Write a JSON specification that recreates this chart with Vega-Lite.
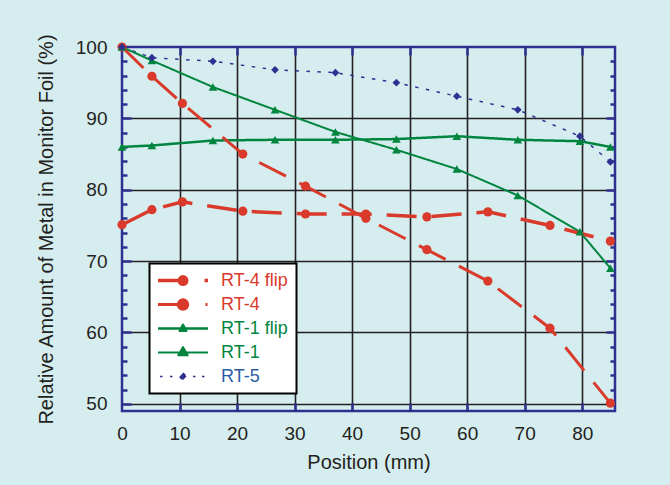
{
  "$schema": "https://vega.github.io/schema/vega-lite/v6.json",
  "width": 493,
  "height": 364,
  "autosize": "none",
  "padding": {"left": 122, "top": 47, "right": 55, "bottom": 74},
  "background": "#D6EDEF",
  "config": {
    "view": {"stroke": "#2E3192", "strokeWidth": 2.5},
    "font": "Liberation Sans"
  },
  "data": {
    "values": [
      {"series": "RT-5", "x": 0, "y": 100},
      {"series": "RT-5", "x": 5.2, "y": 98.5},
      {"series": "RT-5", "x": 15.8, "y": 98.0},
      {"series": "RT-5", "x": 26.6, "y": 96.8},
      {"series": "RT-5", "x": 37.1, "y": 96.4},
      {"series": "RT-5", "x": 47.7, "y": 95.0},
      {"series": "RT-5", "x": 58.2, "y": 93.1},
      {"series": "RT-5", "x": 68.8, "y": 91.2},
      {"series": "RT-5", "x": 79.6, "y": 87.5},
      {"series": "RT-5", "x": 84.9, "y": 83.9},
      {"series": "RT-1", "x": 0, "y": 100},
      {"series": "RT-1", "x": 5.2, "y": 98.1},
      {"series": "RT-1", "x": 15.8, "y": 94.4},
      {"series": "RT-1", "x": 26.6, "y": 91.2},
      {"series": "RT-1", "x": 37.1, "y": 88.1},
      {"series": "RT-1", "x": 47.7, "y": 85.6},
      {"series": "RT-1", "x": 58.2, "y": 82.9},
      {"series": "RT-1", "x": 68.8, "y": 79.2},
      {"series": "RT-1", "x": 79.6, "y": 74.1},
      {"series": "RT-1", "x": 84.9, "y": 69.0},
      {"series": "RT-1 flip", "x": 0, "y": 86.0},
      {"series": "RT-1 flip", "x": 5.2, "y": 86.2},
      {"series": "RT-1 flip", "x": 15.8, "y": 86.9},
      {"series": "RT-1 flip", "x": 26.6, "y": 87.0},
      {"series": "RT-1 flip", "x": 37.1, "y": 87.0},
      {"series": "RT-1 flip", "x": 47.7, "y": 87.1},
      {"series": "RT-1 flip", "x": 58.2, "y": 87.5},
      {"series": "RT-1 flip", "x": 68.8, "y": 87.0},
      {"series": "RT-1 flip", "x": 79.6, "y": 86.8},
      {"series": "RT-1 flip", "x": 84.9, "y": 86.0},
      {"series": "RT-4", "x": 0, "y": 100},
      {"series": "RT-4", "x": 5.2, "y": 95.9},
      {"series": "RT-4", "x": 10.5, "y": 92.1},
      {"series": "RT-4", "x": 21.0, "y": 85.0},
      {"series": "RT-4", "x": 31.9, "y": 80.5},
      {"series": "RT-4", "x": 42.4, "y": 76.0},
      {"series": "RT-4", "x": 53.0, "y": 71.6},
      {"series": "RT-4", "x": 63.6, "y": 67.2},
      {"series": "RT-4", "x": 74.4, "y": 60.6},
      {"series": "RT-4", "x": 84.9, "y": 50.1},
      {"series": "RT-4 flip", "x": 0, "y": 75.1},
      {"series": "RT-4 flip", "x": 5.2, "y": 77.2},
      {"series": "RT-4 flip", "x": 10.5, "y": 78.3},
      {"series": "RT-4 flip", "x": 21.0, "y": 77.0},
      {"series": "RT-4 flip", "x": 31.9, "y": 76.6},
      {"series": "RT-4 flip", "x": 42.4, "y": 76.6},
      {"series": "RT-4 flip", "x": 53.0, "y": 76.2},
      {"series": "RT-4 flip", "x": 63.6, "y": 76.9},
      {"series": "RT-4 flip", "x": 74.4, "y": 75.0},
      {"series": "RT-4 flip", "x": 84.9, "y": 72.8}
    ]
  },
  "layer": [
    {
      "mark": {"type": "line"},
      "encoding": {
        "x": {
          "field": "x", "type": "quantitative",
          "scale": {"domain": [0, 85.7], "nice": false, "zero": false},
          "axis": {
            "orient": "bottom", "values": [0, 10, 20, 30, 40, 50, 60, 70, 80],
            "ticks": false, "domain": false, "grid": true, "labelFlush": false,
            "gridColor": "#231F20", "gridWidth": 1.6,
            "gridOpacity": {"condition": {"test": "datum.value === 0", "value": 0}, "value": 1},
            "labelFont": "Liberation Sans", "labelFontSize": 19, "labelPadding": 13, "labelColor": "#231F20",
            "title": "Position (mm)", "titleFont": "Liberation Sans", "titleFontSize": 20,
            "titleFontWeight": "normal", "titleColor": "#231F20", "titlePadding": 9, "zindex": 0
          }
        },
        "y": {
          "field": "y", "type": "quantitative",
          "scale": {"domain": [49, 100], "nice": false, "zero": false},
          "axis": {
            "orient": "left", "values": [50, 60, 70, 80, 90, 100],
            "ticks": false, "domain": false, "grid": true, "labelFlush": false,
            "gridColor": "#231F20", "gridWidth": 1.6,
            "gridOpacity": {"condition": {"test": "datum.value === 100", "value": 0}, "value": 1},
            "labelFont": "Liberation Sans", "labelFontSize": 19, "labelPadding": 15, "labelColor": "#231F20",
            "title": "Relative Amount of Metal in Monitor Foil (%)", "titleFont": "Liberation Sans",
            "titleFontSize": 20, "titleFontWeight": "normal", "titleColor": "#231F20", "titlePadding": 19, "zindex": 0
          }
        },
        "color": {
          "field": "series", "type": "nominal",
          "scale": {"domain": ["RT-4 flip", "RT-4", "RT-1 flip", "RT-1", "RT-5"], "range": ["#D93A2B", "#D93A2B", "#00853E", "#00853E", "#2E3192"]},
          "legend": {
            "orient": "none", "legendX": 27.5, "legendY": 216.6, "title": null,
            "fillColor": "#FFFFFF", "strokeColor": "#000000", "padding": 8,
            "symbolSize": 100, "symbolOffset": 16.5, "labelOffset": 29, "rowPadding": 6,
            "labelFont": "Liberation Sans", "labelFontSize": 18,
            "encode": {
              "legend": {"update": {"strokeWidth": {"value": 2}}},
              "symbols": {"update": {
                "size": {"value": 100},
                "opacity": {"value": 1},
                "strokeDash": {"value": []},
                "strokeJoin": {"value": "round"},
                "shape": {"signal": "datum.value === 'RT-4 flip' ? 'M-5,0L0,0M-0.75,0A0.75,0.75 0 1,0 0.75,0A0.75,0.75 0 1,0 -0.75,0ZM4.3,0L5,0' : datum.value === 'RT-4' ? 'M-5,0L0,0M-0.95,0A0.95,0.95 0 1,0 0.95,0A0.95,0.95 0 1,0 -0.95,0ZM4.5,0L4.9,0' : datum.value === 'RT-1 flip' ? 'M-5,0L5,0M0,-0.75L0.65,0.45L-0.65,0.45Z' : datum.value === 'RT-1' ? 'M-5,0L5,0M0,-1.1L0.95,0.55L-0.95,0.55Z' : 'M-4.6,0L-4.1,0M-2.6,0L-2.1,0M2,0L2.5,0M3.8,0L4.3,0M0,-0.7L0.7,0L0,0.7L-0.7,0Z'"},
                "stroke": {"signal": "datum.value === 'RT-5' ? '#2E3192' : indexof(datum.value, 'RT-4') === 0 ? '#D93A2B' : '#00853E'"},
                "fill": {"signal": "datum.value === 'RT-5' ? '#2E3192' : indexof(datum.value, 'RT-4') === 0 ? '#D93A2B' : '#00853E'"},
                "strokeWidth": {"signal": "datum.value === 'RT-4 flip' ? 3.5 : datum.value === 'RT-4' ? 1.5 : datum.value === 'RT-1 flip' ? 4 : datum.value === 'RT-1' ? 2 : 2.5"}
              }},
              "labels": {"update": {
                "fill": {"signal": "datum.value === 'RT-5' ? '#2B5CA8' : indexof(datum.value, 'RT-4') === 0 ? '#D93A2B' : '#00853E'"}
              }}
            }
          }
        },
        "strokeDash": {
          "field": "series", "type": "nominal",
          "scale": {"domain": ["RT-4 flip", "RT-4", "RT-1 flip", "RT-1", "RT-5"], "range": [[30, 15], [30, 15], [1, 0], [1, 0], [3.5, 7.5]]},
          "legend": null
        },
        "strokeWidth": {
          "field": "series", "type": "nominal",
          "scale": {"domain": ["RT-4 flip", "RT-4", "RT-1 flip", "RT-1", "RT-5"], "range": [3.5, 1.5, 3.5, 2, 2.5]},
          "legend": null
        }
      }
    },
    {
      "transform": [{"filter": {"field": "series", "oneOf": ["RT-4 flip", "RT-4"]}}],
      "mark": {"type": "point", "shape": "circle", "filled": true, "size": 85, "opacity": 1, "color": "#D93A2B"},
      "encoding": {
        "x": {
          "field": "x", "type": "quantitative",
          "scale": {"domain": [0, 85.7], "nice": false, "zero": false},
          "axis": {"orient": "top", "values": [10, 20, 30, 40, 50, 60, 70, 80], "labels": false, "domain": false, "grid": false,
                   "ticks": true, "tickSize": -8, "tickColor": "#2E3192", "tickWidth": 2.5, "title": null, "zindex": 0}
        },
        "y": {
          "field": "y", "type": "quantitative",
          "scale": {"domain": [49, 100], "nice": false, "zero": false},
          "axis": {"orient": "right", "values": [50, 60, 70, 80, 90], "labels": false, "domain": false, "grid": false,
                   "ticks": true, "tickSize": -9, "tickColor": "#2E3192", "tickWidth": 2.5, "title": null, "zindex": 0}
        }
      }
    },
    {
      "transform": [{"filter": {"field": "series", "oneOf": ["RT-1 flip", "RT-1"]}}],
      "mark": {"type": "point", "shape": "triangle-up", "filled": true, "size": 75, "opacity": 1, "color": "#00853E"},
      "encoding": {
        "x": {
          "field": "x", "type": "quantitative",
          "scale": {"domain": [0, 85.7], "nice": false, "zero": false},
          "axis": {"orient": "bottom", "values": [10, 20, 30, 40, 50, 60, 70, 80], "labels": false, "domain": false, "grid": false,
                   "ticks": true, "tickSize": -8, "tickColor": "#2E3192", "tickWidth": 2.5, "title": null, "zindex": 0}
        },
        "y": {
          "field": "y", "type": "quantitative",
          "scale": {"domain": [49, 100], "nice": false, "zero": false},
          "axis": {"orient": "left", "values": [50, 60, 70, 80, 90], "labels": false, "domain": false, "grid": false,
                   "ticks": true, "tickSize": -9, "tickColor": "#2E3192", "tickWidth": 2.5, "title": null, "zindex": 0}
        }
      }
    },
    {
      "transform": [{"filter": {"field": "series", "equal": "RT-5"}}],
      "mark": {"type": "point", "shape": "diamond", "filled": true, "size": 60, "opacity": 1, "color": "#2E3192"},
      "encoding": {
        "x": {"field": "x", "type": "quantitative", "scale": {"domain": [0, 85.7], "nice": false, "zero": false}, "axis": null},
        "y": {
          "field": "y", "type": "quantitative",
          "scale": {"domain": [49, 100], "nice": false, "zero": false},
          "axis": {"orient": "left", "values": [52, 54, 56, 58, 62, 64, 66, 68, 72, 74, 76, 78, 82, 84, 86, 88, 92, 94, 96, 98],
                   "labels": false, "domain": false, "grid": false,
                   "ticks": true, "tickSize": -5, "tickColor": "#2E3192", "tickWidth": 2.5, "title": null, "zindex": 0}
        }
      }
    },
    {
      "mark": {"type": "point", "opacity": 0},
      "encoding": {
        "x": {"field": "x", "type": "quantitative", "scale": {"domain": [0, 85.7], "nice": false, "zero": false}, "axis": null},
        "y": {
          "field": "y", "type": "quantitative",
          "scale": {"domain": [49, 100], "nice": false, "zero": false},
          "axis": {"orient": "right", "values": [52, 54, 56, 58, 62, 64, 66, 68, 72, 74, 76, 78, 82, 84, 86, 88, 92, 94, 96, 98],
                   "labels": false, "domain": false, "grid": false,
                   "ticks": true, "tickSize": -5, "tickColor": "#2E3192", "tickWidth": 2.5, "title": null, "zindex": 0}
        }
      }
    }
  ],
  "resolve": {"axis": {"x": "independent", "y": "independent"}}
}
